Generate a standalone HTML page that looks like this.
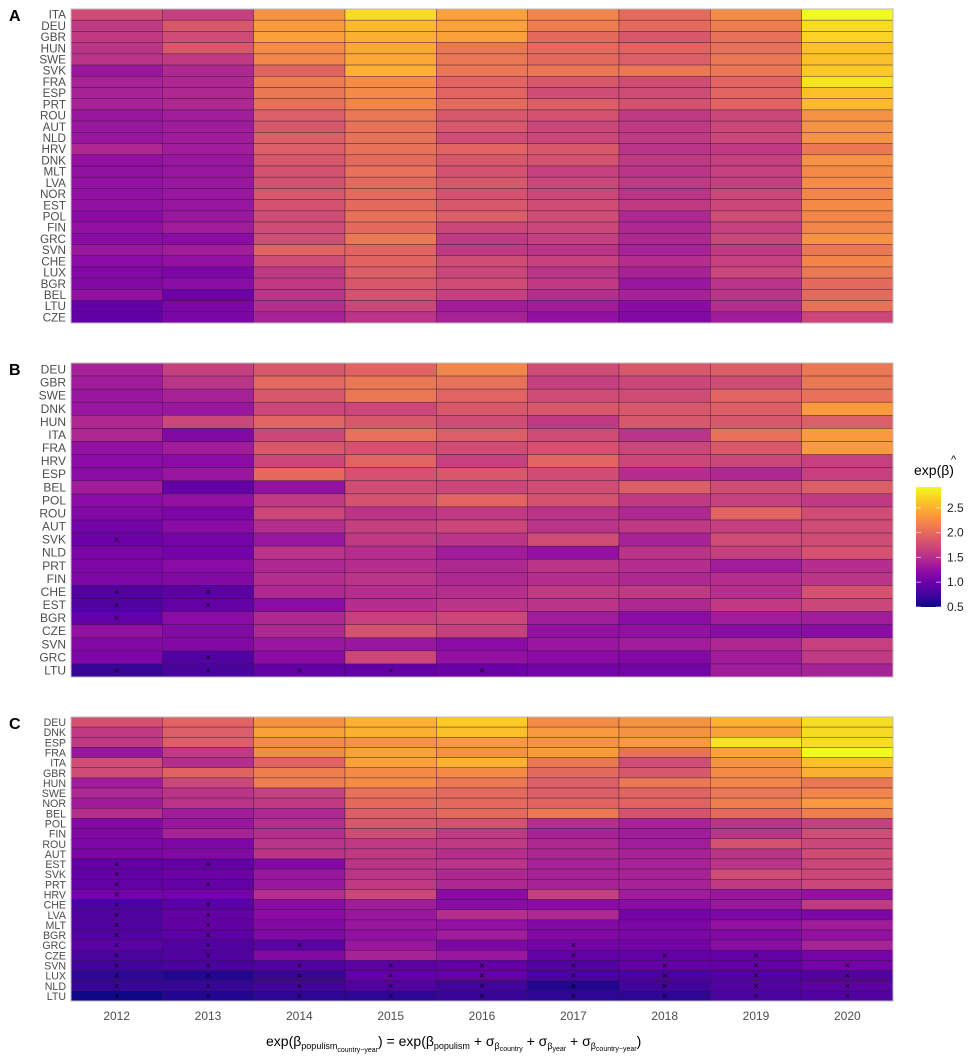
<!DOCTYPE html>
<html><head><meta charset="utf-8"><style>
body{margin:0;background:#fff;width:977px;height:1064px;overflow:hidden}
svg{display:block;font-family:"Liberation Sans",sans-serif}
</style></head><body>
<svg id="chart" width="977" height="1064" viewBox="0 0 977 1064"></svg>
<script>
const years=["2012","2013","2014","2015","2016","2017","2018","2019","2020"];
const rowsA=["ITA","DEU","GBR","HUN","SWE","SVK","FRA","ESP","PRT","ROU","AUT","NLD","HRV","DNK","MLT","LVA","NOR","EST","POL","FIN","GRC","SVN","CHE","LUX","BGR","BEL","LTU","CZE"];
const valsA=[
[1.75,1.65,2.3,2.75,2.4,2.2,2.0,2.25,2.92],
[1.6,1.85,2.35,2.55,2.4,2.15,2.0,2.15,2.75],
[1.6,1.75,2.4,2.5,2.4,2.0,1.85,2.05,2.7],
[1.55,1.85,2.25,2.45,2.1,2.0,1.95,2.05,2.6],
[1.55,1.6,2.2,2.45,2.1,2.0,1.9,2.1,2.6],
[1.3,1.45,1.95,2.5,2.1,2.1,2.1,2.1,2.65],
[1.4,1.45,2.15,2.25,1.95,1.85,1.75,1.95,2.8],
[1.4,1.45,2.1,2.25,1.95,1.75,1.75,1.95,2.6],
[1.4,1.45,2.05,2.2,2.0,1.9,1.8,1.95,2.55],
[1.3,1.35,1.9,2.1,1.85,1.8,1.6,1.7,2.3],
[1.3,1.35,1.85,2.05,1.85,1.7,1.6,1.7,2.3],
[1.3,1.35,1.9,2.05,1.75,1.7,1.6,1.7,2.3],
[1.45,1.35,1.9,2.05,1.95,1.85,1.55,1.6,2.1],
[1.25,1.3,1.85,2.0,1.85,1.8,1.6,1.65,2.3],
[1.25,1.3,1.8,2.05,1.8,1.65,1.55,1.65,2.25],
[1.25,1.3,1.8,2.0,1.85,1.7,1.6,1.65,2.25],
[1.25,1.3,1.85,2.0,1.8,1.7,1.55,1.7,2.2],
[1.25,1.3,1.8,2.0,1.85,1.75,1.6,1.7,2.25],
[1.2,1.3,1.75,2.05,1.9,1.75,1.45,1.75,2.2],
[1.25,1.35,1.75,2.0,1.7,1.7,1.45,1.65,2.2],
[1.2,1.2,1.75,2.1,1.6,1.65,1.45,1.7,2.3],
[1.3,1.35,1.95,1.95,1.6,1.55,1.4,1.6,2.1],
[1.2,1.25,1.75,1.95,1.75,1.65,1.5,1.65,2.2],
[1.15,1.1,1.6,1.9,1.7,1.55,1.4,1.7,2.1],
[1.15,1.2,1.6,1.85,1.75,1.6,1.3,1.55,2.0],
[1.25,1.0,1.55,1.8,1.65,1.5,1.4,1.55,2.0],
[0.95,1.1,1.5,1.7,1.35,1.35,1.2,1.5,2.05],
[0.95,1.1,1.4,1.55,1.4,1.25,1.15,1.35,1.7]];
const marksA=[];
const rowsB=["DEU","GBR","SWE","DNK","HUN","ITA","FRA","HRV","ESP","BEL","POL","ROU","AUT","SVK","NLD","PRT","FIN","CHE","EST","BGR","CZE","SVN","GRC","LTU"];
const valsB=[
[1.4,1.65,1.85,1.95,2.2,1.75,1.85,1.9,2.1],
[1.35,1.55,2.0,2.1,2.05,1.65,1.7,1.75,2.1],
[1.3,1.4,1.85,2.1,1.95,1.75,1.75,1.95,2.05],
[1.3,1.3,1.7,1.7,1.85,1.85,1.85,1.9,2.35],
[1.45,1.7,1.95,1.85,1.75,1.6,1.85,1.85,1.9],
[1.45,1.15,1.7,2.05,1.9,1.75,1.55,2.05,2.35],
[1.25,1.35,1.85,1.8,1.75,1.8,1.7,1.85,2.35],
[1.2,1.2,1.7,1.95,1.65,1.95,1.7,1.7,1.65],
[1.2,1.3,2.0,1.8,1.85,1.75,1.5,1.45,1.65],
[1.35,0.95,1.25,1.75,1.7,1.75,1.9,1.75,1.9],
[1.2,1.25,1.6,1.8,1.95,1.8,1.6,1.65,1.6],
[1.15,1.1,1.7,1.55,1.6,1.55,1.45,1.95,1.75],
[1.05,1.2,1.5,1.65,1.7,1.55,1.6,1.65,1.75],
[1.0,1.05,1.3,1.6,1.55,1.75,1.4,1.75,1.75],
[1.1,1.05,1.55,1.5,1.35,1.25,1.55,1.65,1.8],
[1.1,1.2,1.45,1.5,1.45,1.55,1.5,1.35,1.5],
[1.1,1.15,1.5,1.55,1.45,1.5,1.45,1.5,1.55],
[0.85,0.9,1.45,1.5,1.5,1.6,1.6,1.5,1.8],
[0.85,0.95,1.2,1.5,1.55,1.55,1.45,1.6,1.7],
[0.95,1.2,1.45,1.65,1.7,1.35,1.2,1.35,1.35],
[1.25,1.15,1.45,1.8,1.65,1.25,1.25,1.2,1.2],
[1.15,1.15,1.3,1.3,1.2,1.3,1.35,1.45,1.65],
[1.1,0.85,1.2,1.7,1.25,1.2,1.15,1.35,1.6],
[0.7,0.8,0.95,0.95,1.0,1.05,1.05,1.35,1.4]];
const marksB=[["SVK",0],["CHE",0],["CHE",1],["EST",0],["EST",1],["BGR",0],["GRC",1],["LTU",0],["LTU",1],["LTU",2],["LTU",3],["LTU",4]];
const rowsC=["DEU","DNK","ESP","FRA","ITA","GBR","HUN","SWE","NOR","BEL","POL","FIN","ROU","AUT","EST","SVK","PRT","HRV","CHE","LVA","MLT","BGR","GRC","CZE","SVN","LUX","NLD","LTU"];
const valsC=[
[1.8,1.95,2.3,2.5,2.65,2.25,2.3,2.5,2.75],
[1.6,1.9,2.4,2.5,2.6,2.35,2.3,2.4,2.75],
[1.6,1.9,2.25,2.3,2.35,2.3,2.35,2.8,2.75],
[1.3,1.6,2.25,2.4,2.3,2.35,2.05,2.4,2.92],
[1.75,1.5,1.95,2.4,2.5,2.1,1.75,2.3,2.6],
[1.75,1.95,2.15,2.25,2.25,2.0,1.85,2.25,2.5],
[1.35,1.7,2.15,2.25,2.1,1.9,2.1,2.2,2.1],
[1.45,1.55,1.65,2.05,2.0,1.9,1.95,2.1,2.2],
[1.35,1.55,1.6,2.0,2.0,1.95,1.95,2.15,2.35],
[1.5,1.35,1.45,1.9,2.0,2.1,1.8,2.0,2.15],
[1.15,1.3,1.5,1.85,1.8,1.5,1.4,1.55,1.65],
[1.15,1.4,1.5,1.75,1.6,1.4,1.35,1.55,1.75],
[1.1,1.1,1.55,1.6,1.6,1.45,1.35,1.8,1.7],
[1.1,1.15,1.55,1.6,1.5,1.45,1.4,1.55,1.75],
[0.95,0.95,1.15,1.55,1.55,1.4,1.4,1.55,1.7],
[0.95,1.0,1.3,1.55,1.45,1.4,1.4,1.75,1.7],
[0.95,0.95,1.3,1.6,1.45,1.4,1.4,1.6,1.7],
[1.05,1.05,1.5,1.7,1.2,1.65,1.35,1.3,1.25],
[0.8,0.9,1.2,1.35,1.2,1.2,1.2,1.3,1.6],
[0.85,0.95,1.2,1.3,1.5,1.45,1.05,1.1,1.1],
[0.85,0.95,1.15,1.3,1.25,1.15,1.1,1.25,1.35],
[0.85,0.9,1.15,1.25,1.35,1.15,1.1,1.15,1.25],
[0.9,0.85,0.9,1.3,1.1,1.05,1.05,1.2,1.4],
[0.8,0.85,1.15,1.4,1.3,0.95,0.95,0.95,1.05],
[0.75,0.8,0.85,0.9,0.95,0.85,0.95,0.95,1.05],
[0.65,0.6,0.7,0.95,0.95,0.8,0.8,0.85,0.85],
[0.7,0.7,0.75,0.85,0.75,0.6,0.75,0.85,0.9],
[0.5,0.6,0.65,0.65,0.7,0.65,0.65,0.8,0.85]];
const marksC=[["EST",0],["EST",1],["SVK",0],["PRT",0],["PRT",1],["HRV",0],
["CHE",0],["CHE",1],["LVA",0],["LVA",1],["MLT",0],["MLT",1],["BGR",0],["BGR",1],
["GRC",0],["GRC",1],["GRC",2],["GRC",5],["CZE",0],["CZE",1],["CZE",5],["CZE",6],["CZE",7],
["SVN",0],["SVN",1],["SVN",2],["SVN",3],["SVN",4],["SVN",5],["SVN",6],["SVN",7],["SVN",8],
["LUX",0],["LUX",1],["LUX",2],["LUX",3],["LUX",4],["LUX",5],["LUX",6],["LUX",7],["LUX",8],
["NLD",0],["NLD",1],["NLD",2],["NLD",3],["NLD",4],["NLD",5],["NLD",6],["NLD",7],["NLD",8],
["LTU",0],["LTU",1],["LTU",2],["LTU",3],["LTU",4],["LTU",5],["LTU",6],["LTU",7],["LTU",8]];
const legendTicks=[0.5,1.0,1.5,2.0,2.5];
const VMIN=0.5,VMAX=2.92;

const NS="http://www.w3.org/2000/svg";
const svg=document.getElementById('chart');
const plasma=["#0d0887","#41049d","#6a00a8","#8f0da4","#b12a90","#cc4778","#e16462","#f2844b","#fca636","#fcce25","#f0f921"];
function hex(h){return [1,3,5].map(i=>parseInt(h.substr(i,2),16));}
function color(v){let t=Math.max(0,Math.min(1,(v-VMIN)/(VMAX-VMIN)))*10;let i=Math.min(9,Math.floor(t)),f=t-i;
const a=hex(plasma[i]),b=hex(plasma[i+1]);return "rgb("+a.map((c,k)=>Math.round(c+(b[k]-c)*f)).join(",")+")";}
function el(tag,attrs,parent){const e=document.createElementNS(NS,tag);for(const k in attrs)e.setAttribute(k,attrs[k]);(parent||svg).appendChild(e);return e;}
const X0=71,X1=893,cw=(X1-X0)/years.length;
const xScale=i=>X0+i*cw;

function panel(letter,rows,vals,marks,y0,y1,name){
  const g=el('g',{});
  
  
  const rh=(y1-y0)/rows.length;
  const yScale=r=>y0+r*rh;
  rows.forEach((rn,r)=>{
    vals[r].forEach((v,c)=>{
      const rect=el('rect',{x:xScale(c),y:yScale(r),width:cw,height:rh,fill:color(v),stroke:"rgba(40,20,50,0.6)","stroke-width":0.6},g);
      
      
    });
    const t=el('text',{x:66,y:yScale(r)+rh/2+4,"text-anchor":"end","font-size":Math.min(12,rh+0.5),fill:"#4d4d4d"},g);
    t.textContent=rn;
    
    
  });
  marks.forEach(m=>{
    const r=rows.indexOf(m[0]);
    const t=el('text',{x:xScale(m[1])+cw/2,y:yScale(r)+rh/2+3,"text-anchor":"middle","font-size":9,fill:"#000"},g);
    t.textContent="×";
    
    
  });
  el('rect',{x:X0,y:y0,width:X1-X0,height:y1-y0,fill:"none",stroke:"#bbb","stroke-width":1},g);
  const L=el('text',{x:9,y:y0+12,"font-size":16,"font-weight":"bold",fill:"#000"},g);
  L.textContent=letter;
  
  
}
panel("A",rowsA,valsA,marksA,9,323,"panel-a");
panel("B",rowsB,valsB,marksB,363,677,"panel-b");
panel("C",rowsC,valsC,marksC,717,1001,"panel-c");

years.forEach((y,i)=>{
  const t=el('text',{x:xScale(i)+cw/2,y:1020,"text-anchor":"middle","font-size":12,fill:"#4d4d4d"});
  t.textContent=y;
  
  
});

// legend
const LX=916,LW=25,LT=487,LB=607;
const lv=v=>LB-(v-VMIN)/(VMAX-VMIN)*(LB-LT);
const defs=el('defs',{});
const grad=el('linearGradient',{id:"pl",x1:0,y1:1,x2:0,y2:0},defs);
plasma.forEach((c,i)=>el('stop',{offset:i/10,"stop-color":c},grad));
const lb=el('rect',{x:LX,y:LT,width:LW,height:LB-LT,fill:"url(#pl)"});


legendTicks.forEach(v=>{
  const y=lv(v);
  el('line',{x1:LX,x2:LX+5,y1:y,y2:y,stroke:"#fff","stroke-opacity":0.6});
  el('line',{x1:LX+LW-5,x2:LX+LW,y1:y,y2:y,stroke:"#fff","stroke-opacity":0.6});
  const t=el('text',{x:LX+LW+6,y:y+4,"font-size":12,fill:"#222"});
  t.textContent=v.toFixed(1);
  
  
});
</script>
<svg style="position:absolute;left:0;top:0" width="977" height="1064">
<g font-family="Liberation Sans, sans-serif">
<text x="914" y="475" font-size="14" fill="#000">exp(β)</text>
<text x="951" y="463" font-size="11" fill="#000">^</text>
<text x="266" y="1046" font-size="14" fill="#000">exp(β<tspan font-size="9" dy="3">populism</tspan><tspan font-size="7" dy="3">country−year</tspan><tspan dy="-6">) = exp(β</tspan><tspan font-size="9" dy="3">populism</tspan><tspan dy="-3"> + σ</tspan><tspan font-size="9" dy="3">β</tspan><tspan font-size="7" dy="2">country</tspan><tspan dy="-5"> + σ</tspan><tspan font-size="9" dy="3">β</tspan><tspan font-size="7" dy="2">year</tspan><tspan dy="-5"> + σ</tspan><tspan font-size="9" dy="3">β</tspan><tspan font-size="7" dy="2">country−year</tspan><tspan dy="-5">)</tspan></text>
</g></svg>
</body></html>
